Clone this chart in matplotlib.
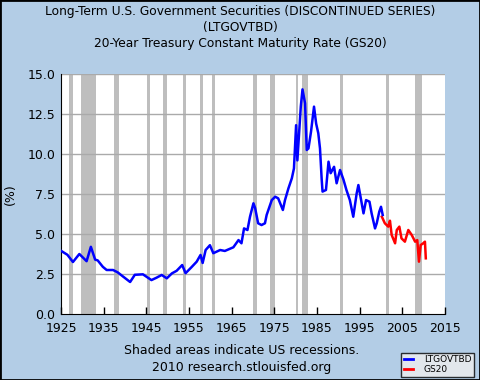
import matplotlib
matplotlib.use("Agg")
import matplotlib.pyplot as plt

# LTGOVTBD (year, percent)
ltgov_years = [1925.0, 1926.5, 1927.8, 1929.3, 1931.0, 1932.0, 1933.0, 1933.6, 1934.8,
               1935.7, 1937.2, 1938.3, 1939.5, 1941.2, 1942.3, 1944.2, 1946.2, 1947.4,
               1948.6, 1949.8, 1951.0, 1952.1, 1953.4, 1954.2, 1955.6, 1956.8, 1957.7,
               1958.2, 1958.9, 1959.9, 1960.7, 1962.3, 1963.4, 1965.4, 1966.6, 1967.3,
               1967.9, 1968.7, 1969.3, 1970.1, 1970.5, 1971.2, 1972.0, 1972.8, 1973.2,
               1974.4, 1975.2, 1975.9, 1977.0, 1977.5, 1978.3, 1979.1, 1979.6, 1980.1,
               1980.4, 1980.9, 1981.2, 1981.6, 1982.2, 1982.6, 1983.0, 1983.6, 1984.3,
               1984.8, 1985.3, 1985.7, 1986.1, 1986.3, 1987.1, 1987.7, 1988.2, 1989.0,
               1989.6, 1990.4, 1991.2, 1991.9, 1992.7, 1993.5, 1994.3, 1994.7, 1995.2,
               1995.9, 1996.5, 1997.3, 1997.8, 1998.6, 1999.0, 1999.6, 2000.0, 2000.4]
ltgov_vals = [3.95, 3.7, 3.25, 3.75, 3.3, 4.2, 3.4, 3.35, 2.95,
              2.75, 2.75, 2.6, 2.35, 2.0, 2.45, 2.48, 2.12, 2.27,
              2.44, 2.23, 2.54, 2.7, 3.06, 2.55, 2.93, 3.27, 3.69,
              3.19, 4.0, 4.3, 3.8, 4.0, 3.94, 4.17, 4.62, 4.42,
              5.35, 5.25, 6.08, 6.92, 6.62, 5.67, 5.56, 5.67, 6.19,
              7.12, 7.33, 7.23, 6.5, 7.12, 7.85, 8.48, 9.1, 11.8,
              9.6, 11.7, 12.96, 14.04, 13.17, 10.25, 10.35, 11.4, 12.96,
              11.9, 11.3, 10.35, 8.4, 7.65, 7.75, 9.52, 8.8, 9.2,
              8.17, 9.0, 8.4, 7.75, 7.12, 6.08, 7.54, 8.06, 7.33,
              6.29, 7.12, 7.02, 6.29, 5.35, 5.67, 6.4, 6.7, 6.19]

# GS20
gs20_years = [2000.2, 2000.9, 2001.7, 2002.1, 2002.5, 2003.3, 2003.7, 2004.3, 2004.8,
              2005.6, 2006.4, 2007.2, 2008.0, 2008.5, 2008.9, 2009.3, 2009.9, 2010.3, 2010.5]
gs20_vals = [6.08, 5.67, 5.46, 5.83, 4.94, 4.42, 5.25, 5.46, 4.73,
             4.52, 5.25, 4.94, 4.52, 4.62, 3.27, 4.31, 4.42, 4.52, 3.48]

recessions = [(1926.8, 1927.9), (1929.6, 1933.2), (1937.4, 1938.5), (1945.1, 1945.8),
              (1948.9, 1949.8), (1953.5, 1954.4), (1957.6, 1958.3), (1960.3, 1961.1),
              (1969.9, 1970.9), (1973.9, 1975.2), (1980.0, 1980.5), (1981.5, 1982.9),
              (1990.5, 1991.2), (2001.2, 2001.9), (2007.9, 2009.5)]

x_ticks = list(range(1925, 2016, 10))
y_ticks = [0, 2.5, 5, 7.5, 10, 12.5, 15]

bg = "#B3CDE6"
fig = plt.figure(figsize=(4.8, 3.8), dpi=100, facecolor=bg)
ax = fig.add_axes([61 / 480, 1 - 314 / 380, 384 / 480, 240 / 380])
ax.set_facecolor("white")

for start, end in recessions:
    ax.axvspan(start, end, color="#BEBEBE", lw=0, zorder=1)

for y in y_ticks[1:]:
    ax.axhline(y, color="#AAAAAA", lw=1, zorder=2)

ax.plot(ltgov_years, ltgov_vals, color="#0000FF", lw=1.8, zorder=4, label="LTGOVTBD")
ax.plot(gs20_years, gs20_vals, color="#FF0000", lw=1.8, zorder=3, label="GS20")

ax.set_xlim(1925, 2015)
ax.set_ylim(0, 15)
ax.set_xticks(x_ticks)
ax.set_yticks(y_ticks)
ax.set_yticklabels([f"{v:.1f}" for v in y_ticks])
ax.tick_params(axis="x", direction="in", length=5, width=1, labelsize=9, pad=6)
ax.tick_params(axis="y", length=0, labelsize=9, pad=4)
for s in ["top", "right"]:
    ax.spines[s].set_visible(False)
ax.spines["left"].set_color("black")
ax.spines["bottom"].set_color("black")
ax.set_ylabel("(%)", fontsize=9, labelpad=8)

fig.text(0.5, 1 - 12 / 380, "Long-Term U.S. Government Securities (DISCONTINUED SERIES)",
         ha="center", va="center", fontsize=8.8)
fig.text(0.5, 1 - 28 / 380, "(LTGOVTBD)", ha="center", va="center", fontsize=8.8)
fig.text(0.5, 1 - 44 / 380, "20-Year Treasury Constant Maturity Rate (GS20)",
         ha="center", va="center", fontsize=8.8)
fig.text(242 / 480, 1 - 350 / 380, "Shaded areas indicate US recessions.",
         ha="center", va="center", fontsize=9)
fig.text(242 / 480, 1 - 367 / 380, "2010 research.stlouisfed.org",
         ha="center", va="center", fontsize=9)

leg = fig.legend(loc="lower right", bbox_to_anchor=(474 / 480, 3 / 380), fontsize=6.5,
                 frameon=True, fancybox=False, handlelength=1.0, handletextpad=1.2,
                 borderpad=0.3, labelspacing=0.1, borderaxespad=0)
leg.get_frame().set_facecolor("#EEEEEE")
leg.get_frame().set_edgecolor("black")
leg.get_frame().set_linewidth(1)
for line in leg.get_lines():
    line.set_linewidth(2)

# outer border
fig.patches.append(plt.Rectangle((0, 0), 1, 1, transform=fig.transFigure, fill=False,
                                 edgecolor="black", lw=2))

fig.savefig("out.png", dpi=100, facecolor=bg)
